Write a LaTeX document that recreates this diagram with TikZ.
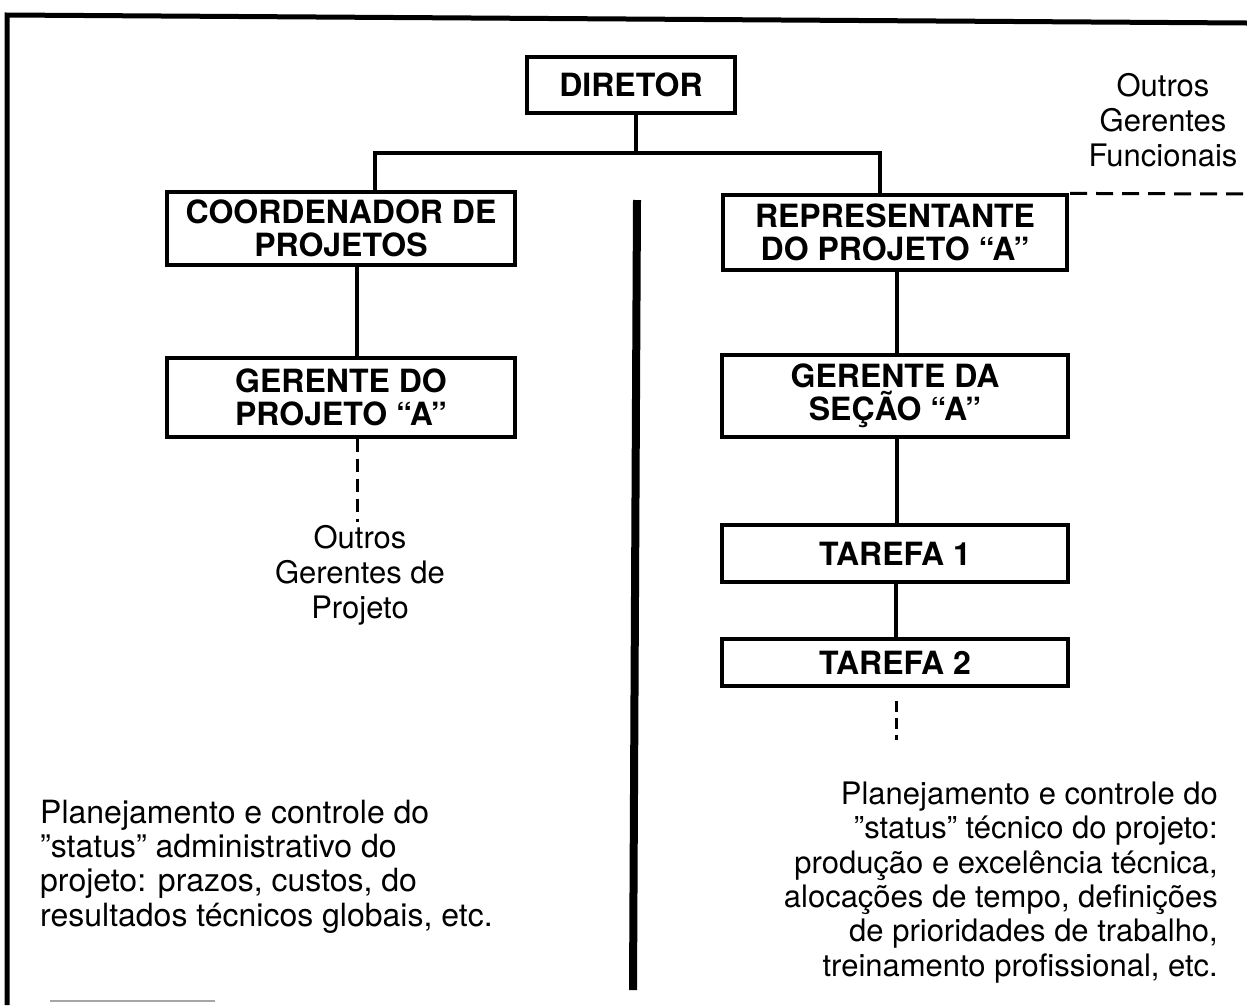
\documentclass[tikz,border=0pt]{standalone}
\usepackage{fontspec}
\setmainfont{TeX Gyre Heros}
\begin{document}
\begin{tikzpicture}[x=1pt,y=-1pt,
  orgbox/.style={draw, line width=3.2pt, inner sep=0pt, align=center,
    font=\fontsize{32}{33}\selectfont\bfseries},
  conn/.style={line width=3.2pt},
  dashconn/.style={line width=3pt, dash pattern=on 13pt off 7pt},
  bodytext/.style={inner sep=0pt, font=\fontsize{31}{34.3}\selectfont},
  framel/.style={line width=5pt}]
\useasboundingbox (0,0) rectangle (1247,1005);
% frame
\draw[framel] (1247,23) -- (7,15) -- (7,1005);
\draw[line width=2pt, black!35] (50,1001) -- (215,1001);
% boxes
\node[orgbox, minimum width=208pt, minimum height=56pt] (diretor) at (631,85) {DIRETOR};
\node[orgbox, minimum width=348pt, minimum height=73pt] (coord) at (341,228.5) {COORDENADOR DE\\PROJETOS};
\node[orgbox, minimum width=348pt, minimum height=79pt] (gerp) at (341,397.5) {GERENTE DO\\PROJETO “A”};
\node[orgbox, minimum width=344pt, minimum height=75pt] (rep) at (895,232.5) {REPRESENTANTE\\DO PROJETO “A”};
\node[orgbox, minimum width=346pt, minimum height=82pt] (gers) at (895,396) {GERENTE DA\\SEÇÃO “A”};
\node[orgbox, minimum width=346pt, minimum height=57pt] (t1) at (895,553.5) {TAREFA 1};
\node[orgbox, minimum width=346pt, minimum height=47pt] (t2) at (895,662.5) {TAREFA 2};
% texts
\node[bodytext, align=center, font=\fontsize{31}{35}\selectfont] (ofunc) at (1163,120) {Outros\\Gerentes\\Funcionais};
\node[bodytext, align=center, font=\fontsize{31}{35}\selectfont] (oproj) at (360,575) {Outros\\Gerentes de\\Projeto};
\node[bodytext, align=left, anchor=west, font=\fontsize{32}{34.3}\selectfont] (ltext) at (40,866.5) {Planejamento e controle do\\''status'' administrativo do\\projeto: prazos, custos, do\\resultados técnicos globais, etc.};
\node[bodytext, align=right, anchor=east] (rtext) at (1218,882.5) {Planejamento e controle do\\''status'' técnico do projeto:\\produção e excelência técnica,\\alocações de tempo, definições\\de prioridades de trabalho,\\treinamento profissional, etc.};
% coordinates
\coordinate (hl) at (375,153);
\coordinate (hr) at (880,153);
\coordinate (gpend) at (357,522);
\coordinate (t2end) at (896,740);
\coordinate (funcend) at (1247,194);
% connectors
\draw[conn] ([xshift=5pt]diretor.south) -- ([xshift=5pt]diretor.south |- hl);
\draw[conn] (hl |- coord.north) -- (hl) -- (hr) -- (hr |- rep.north);
\draw[conn] ([xshift=16pt]coord.south) -- ([xshift=16pt]gerp.north);
\draw[dashconn] ([xshift=16pt]gerp.south) -- (gpend);
\draw[conn] ([xshift=2pt]rep.south) -- ([xshift=2pt]gers.north);
\draw[conn] ([xshift=2pt]gers.south) -- ([xshift=2pt]t1.north);
\draw[conn] ([xshift=1pt]t1.south) -- ([xshift=1pt]t2.north);
\draw[line width=3pt, dash pattern=on 11pt off 6pt] ([xshift=1pt, yshift=-13pt]t2.south) -- (t2end);
\draw[line width=3pt, dash pattern=on 17pt off 9pt] ([xshift=1.6pt]rep.north east) -- (funcend);
% divider
\draw[line width=8pt] (637,200) -- (633,990);
\end{tikzpicture}
\end{document}
